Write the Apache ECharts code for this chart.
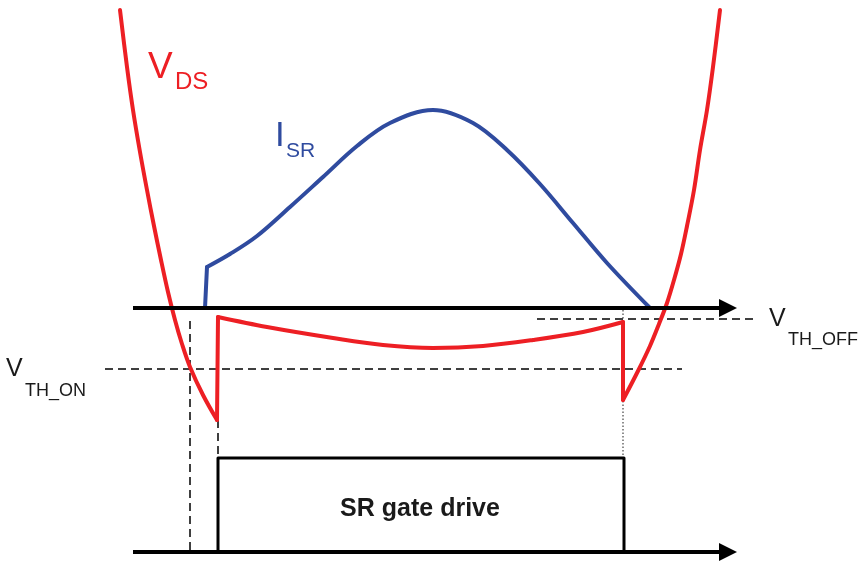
<!doctype html>
<html>
<head>
    <title>SR gate drive timing</title>
    <script src="https://cdn.jsdelivr.net/npm/echarts@6/dist/echarts.min.js"></script>
</head>
<style>
    html, body {
        margin: 0;
        background: #fff;
    }
    #EChartParent {
        width: 860px;
        height: 564px;
    }
</style>
<body>
<div id="EChartParent"></div>
<script>
  // points, in picture units (x right, y down)
  var vdsLeft = [[120, 10], [127, 67], [133, 110], [140, 152], [147, 190], [154, 226], [161, 260],
    [168, 292], [175, 320], [182, 344], [190, 367], [203, 395], [217, 420]];
  var vdsTurnOn = [[217, 420], [218, 317]];
  var vdsConduct = [[218, 317], [267, 327], [333, 338], [383, 345], [433, 348], [483, 346],
    [533, 340], [583, 332], [623, 322]];
  var vdsTurnOff = [[623, 322], [623, 400]];
  var vdsRight = [[623, 400], [638, 371], [650, 346], [659, 324], [667, 303], [674, 280], [681, 254],
    [687, 226], [694, 190], [700, 150], [707, 110], [713, 67], [720, 10]];

  var isrStep = [[205, 308], [207, 267]];
  var isrCurve = [[207, 267], [230, 254], [257, 236], [290, 207], [323, 177], [357, 146], [390, 123],
    [433, 110], [473, 123], [507, 150], [540, 184], [573, 223], [607, 263], [650, 308]];

  var gateDrive = [[218, 552], [218, 458], [624, 458], [624, 552]];

  var axisTop = [[133, 308], [728, 308]];
  var axisBottom = [[133, 552], [728, 552]];

  var vthOn = [[105, 369], [682, 369]];
  var vthOff = [[537, 319], [757, 319]];
  var markOn = [[190, 321], [190, 552]];
  var markGate = [[218, 420], [218, 458]];
  var markOff = [[623, 310], [623, 458]];

  var RED = '#ed1f24';
  var BLUE = '#2f4b9f';
  var INK = '#1a1a1a';
  var FONT = 'Liberation Sans, Arial, Helvetica, sans-serif';

  var chart = echarts.init(document.getElementById('EChartParent'));

  function trace(data, color, width, smooth, z) {
    return {
      type: 'line',
      data: data,
      showSymbol: false,
      smooth: smooth || false,
      clip: false,
      z: z || 3,
      lineStyle: {color: color, width: width, cap: 'round', join: 'round'}
    };
  }

  function guide(data, color, width, dash) {
    return {
      type: 'line',
      data: data,
      showSymbol: false,
      clip: false,
      z: 1,
      lineStyle: {color: color, width: width, type: dash}
    };
  }

  function arrowAxis(data) {
    return {
      type: 'lines',
      coordinateSystem: 'cartesian2d',
      z: 5,
      symbol: ['none', 'triangle'],
      symbolSize: [16, 18],
      lineStyle: {color: '#000', width: 4, opacity: 1},
      data: [{coords: data}]
    };
  }

  function label(text, x, y, size, color, weight, align) {
    return {
      type: 'text',
      x: x,
      y: y,
      z: 10,
      style: {
        text: text,
        fill: color,
        font: (weight || 'normal') + ' ' + size + 'px ' + FONT,
        textAlign: align || 'left',
        textVerticalAlign: 'middle'
      }
    };
  }

  var option = {
    animation: false,
    backgroundColor: '#fff',
    grid: {left: 0, right: 0, top: 0, bottom: 0},
    xAxis: {type: 'value', min: 0, max: 860, show: false},
    yAxis: {type: 'value', min: 0, max: 564, inverse: true, show: false},
    graphic: [
      label('V', 148, 68, 37, RED),
      label('DS', 175, 82, 24, RED),
      label('I', 275, 136, 35, BLUE),
      label('SR', 286, 151, 21, BLUE),
      label('V', 6, 369, 25, INK),
      label('TH_ON', 25, 391, 18, INK),
      label('V', 769, 319, 25, INK),
      label('TH_OFF', 788, 340, 18, INK),
      label('SR gate drive', 420, 509, 25, INK, 'bold', 'center')
    ],
    series: [
      guide(vthOn, '#000', 1.5, [8, 5]),
      guide(vthOff, '#000', 1.5, [8, 5]),
      guide(markOn, '#000', 1.5, [8, 5]),
      guide(markGate, '#000', 1.5, [8, 5]),
      guide(markOff, '#444', 1.2, [1.5, 2]),
      trace(gateDrive, '#000', 3, false, 2),
      trace(isrStep, BLUE, 4),
      trace(isrCurve, BLUE, 4, 0.35),
      trace(vdsLeft, RED, 4, 0.35),
      trace(vdsTurnOn, RED, 4),
      trace(vdsConduct, RED, 4, 0.35),
      trace(vdsTurnOff, RED, 4),
      trace(vdsRight, RED, 4, 0.35),
      arrowAxis(axisTop),
      arrowAxis(axisBottom)
    ]
  };

  chart.setOption(option);
</script>
</body>
</html>
